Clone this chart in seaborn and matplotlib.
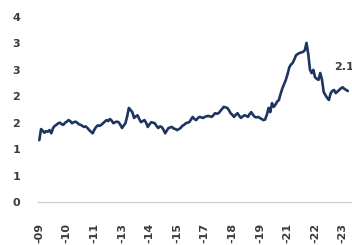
import matplotlib
matplotlib.use("Agg")
import matplotlib.pyplot as plt
import pandas as pd
import seaborn as sns

# monthly values, Jan-09 .. Dec-23
v2009 = [1.17, 1.38, 1.35, 1.31, 1.34, 1.33, 1.36, 1.30, 1.40, 1.44, 1.46, 1.49]
v2010 = [1.50, 1.47, 1.46, 1.50, 1.52, 1.55, 1.53, 1.49, 1.51, 1.52, 1.50, 1.47]
v2011 = [1.46, 1.44, 1.42, 1.43, 1.40, 1.36, 1.33, 1.30, 1.37, 1.42, 1.45, 1.44]
v2012 = [1.46, 1.49, 1.52, 1.55, 1.53, 1.57, 1.54, 1.49, 1.51, 1.52, 1.51, 1.46]
v2013 = [1.40, 1.45, 1.49, 1.62, 1.78, 1.74, 1.70, 1.59, 1.62, 1.64, 1.57, 1.51]
v2014 = [1.53, 1.55, 1.50, 1.42, 1.47, 1.51, 1.50, 1.49, 1.44, 1.40, 1.43, 1.42]
v2015 = [1.37, 1.30, 1.35, 1.40, 1.41, 1.42, 1.39, 1.38, 1.36, 1.38, 1.40, 1.44]
v2016 = [1.46, 1.49, 1.50, 1.51, 1.56, 1.61, 1.57, 1.55, 1.59, 1.61, 1.60, 1.59]
v2017 = [1.61, 1.62, 1.63, 1.62, 1.61, 1.64, 1.68, 1.67, 1.68, 1.72, 1.76, 1.80]
v2018 = [1.79, 1.78, 1.74, 1.68, 1.65, 1.61, 1.65, 1.68, 1.63, 1.59, 1.62, 1.64]
v2019 = [1.63, 1.61, 1.66, 1.70, 1.65, 1.61, 1.60, 1.61, 1.59, 1.57, 1.55, 1.56]
v2020 = [1.65, 1.78, 1.70, 1.87, 1.80, 1.84, 1.90, 1.93, 2.05, 2.15, 2.23, 2.31]
v2021 = [2.42, 2.55, 2.60, 2.63, 2.70, 2.78, 2.80, 2.82, 2.83, 2.84, 2.87, 3.01]
v2022 = [2.80, 2.50, 2.44, 2.50, 2.36, 2.33, 2.31, 2.44, 2.31, 2.08, 2.02, 1.97]
v2023 = [1.93, 2.06, 2.10, 2.12, 2.06, 2.09, 2.12, 2.15, 2.17, 2.14, 2.12, 2.10]

values = (v2009 + v2010 + v2011 + v2012 + v2013 + v2014 + v2015 + v2016
          + v2017 + v2018 + v2019 + v2020 + v2021 + v2022 + v2023)
dates = pd.date_range("2009-01-01", periods=len(values), freq="MS")
df = pd.DataFrame({"date": dates, "value": values})

# ticks every 16 months; only the year part is visible in the reference
tick_dates = pd.date_range("2009-01-01", periods=12, freq="16MS")
tick_labels = ["-09", "-10", "-11", "-13", "-14", "-15",
               "-17", "-18", "-19", "-21", "-22", "-23"]
y_ticks = [0, 0.5, 1.0, 1.5, 2.0, 2.5, 3.0, 3.5]
y_labels = ["0", "1", "1", "2", "2", "3", "3", "4"]
end_label = "2.1"

sns.set_style("white")
plt.rcParams["font.family"] = ["DejaVu Sans"]

line_col = "#1f3461"
txt_col = "#3b3b3b"

fig = plt.figure(figsize=(3.52, 2.45), dpi=100)
ax = fig.add_axes([38 / 352, 43 / 245, 315 / 352, 185 / 245])
sns.lineplot(data=df, x="date", y="value", color=line_col, linewidth=1.9, ax=ax)

ax.set_xlim(pd.Timestamp("2008-12-09"), pd.Timestamp("2024-03-01"))
ax.set_ylim(0, 3.5)
ax.set_xlabel("")
ax.set_ylabel("")

ax.set_yticks(y_ticks)
ax.set_yticklabels(y_labels, fontsize=8, fontweight="bold", color=txt_col)
ax.tick_params(axis="y", length=0, pad=13)

ax.set_xticks(tick_dates)
ax.set_xticklabels(tick_labels, rotation=90, fontsize=8, fontweight="bold",
                   color=txt_col)
ax.tick_params(axis="x", length=3, color="#c9d3de", pad=12)

for side in ["top", "right", "left"]:
    ax.spines[side].set_visible(False)
ax.spines["bottom"].set_color("#c9d3de")
ax.spines["bottom"].set_linewidth(1.0)

ax.annotate(end_label, xy=(dates[-1], values[-1]), xytext=(4, 17),
            textcoords="offset points", ha="right", va="center",
            fontsize=8, fontweight="bold", color=txt_col, annotation_clip=False)

fig.savefig("out.png", dpi=100)
